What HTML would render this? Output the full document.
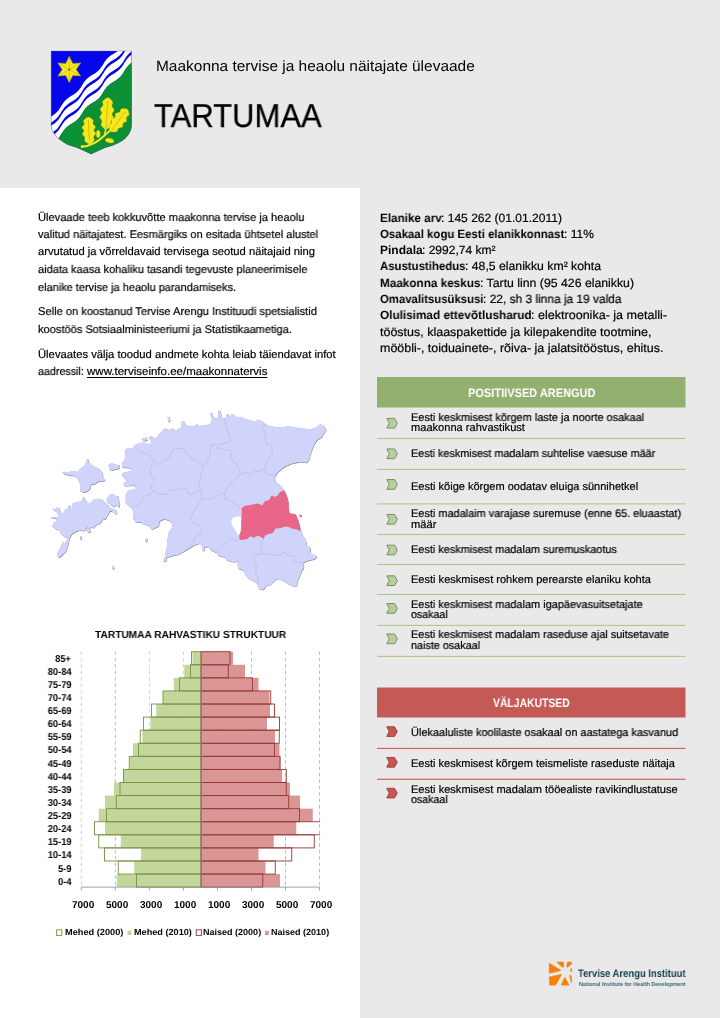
<!DOCTYPE html><html><head><meta charset="utf-8"><title>Tartumaa</title><style>
html,body{margin:0;padding:0}body{width:720px;height:1018px;position:relative;overflow:hidden;background:#e9e9e9;font-family:"Liberation Sans",sans-serif;color:#000}
#panel{position:absolute;left:0;top:188.3px;width:359.8px;height:830px;background:#fff}
#gfx{position:absolute;left:0;top:0}
.t{position:absolute;white-space:nowrap;line-height:1;transform-origin:0 0;margin:0;will-change:transform;text-rendering:geometricPrecision}
.r{transform-origin:100% 0}
u{text-decoration-thickness:0.8px;text-underline-offset:1.5px}
</style></head><body>
<div id="panel"></div>
<svg id="gfx" width="720" height="1018" viewBox="0 0 720 1018">
<clipPath id="sh"><path d="M51.1 51.1H131.5V124C131.5 128 131 130 129.9 131.75C128.8 134.5 127.5 136 125.5 138C123.5 140 121 141.5 118 143C115 144.5 113 145.3 110.5 146.1L105.5 147.4L91.1 154.1L76.75 147.4L71.75 146.1C69 145.3 66 143.8 63 141.75C60 139.7 57.5 138 55.5 135.5C53.5 133 52.3 131 51.75 128.6C51.2 126.5 51.1 125.5 51.1 124Z"/></clipPath>
<g clip-path="url(#sh)">
<rect x="50" y="50" width="83" height="106" fill="#0606ec"/>
<path d="M21.6 144.4 L22.5 143.3 L23.4 142.4 L24.4 141.4 L25.4 140.6 L26.5 139.8 L27.7 139.0 L28.9 138.3 L30.0 137.6 L31.2 136.8 L32.4 136.1 L33.5 135.3 L34.5 134.4 L35.5 133.5 L36.4 132.5 L37.3 131.5 L38.1 130.4 L38.9 129.3 L39.6 128.1 L40.3 126.9 L41.1 125.7 L41.8 124.6 L42.6 123.5 L43.4 122.4 L44.4 121.4 L45.3 120.5 L46.4 119.6 L47.5 118.8 L48.6 118.0 L49.8 117.3 L50.9 116.6 L52.1 115.9 L53.3 115.1 L54.4 114.3 L55.4 113.5 L56.4 112.6 L57.4 111.6 L58.3 110.6 L59.1 109.5 L59.8 108.3 L60.6 107.2 L61.3 106.0 L62.0 104.8 L62.8 103.7 L63.6 102.6 L64.4 101.5 L65.3 100.5 L66.3 99.5 L67.3 98.7 L68.4 97.8 L69.5 97.1 L70.7 96.3 L71.9 95.6 L73.0 94.9 L74.2 94.1 L75.3 93.4 L76.4 92.5 L77.4 91.6 L78.3 90.7 L79.2 89.6 L80.0 88.6 L80.8 87.4 L81.5 86.3 L82.3 85.1 L83.0 83.9 L83.7 82.8 L84.5 81.6 L85.4 80.6 L86.2 79.5 L87.2 78.6 L88.2 77.7 L89.3 76.9 L90.4 76.1 L91.6 75.4 L92.8 74.6 L93.9 73.9 L95.1 73.2 L96.2 72.4 L97.3 71.6 L98.3 70.7 L99.3 69.7 L100.2 68.7 L101.0 67.6 L101.8 66.5 L102.5 65.4 L103.2 64.2 L104.0 63.0 L104.7 61.8 L105.5 60.7 L106.3 59.6 L107.2 58.6 L108.1 57.7 L109.1 56.8 L110.2 55.9 L111.3 55.1 L112.5 54.4 L113.7 53.7 L114.9 52.9 L116.0 52.2 L117.1 51.4 L118.2 50.6 L119.3 49.7 L120.2 48.8 L121.1 47.8 L122.0 46.7 L122.7 45.6 L123.5 44.5 L124.2 43.3 L124.9 42.1 L125.7 40.9 L126.4 39.8 L127.3 38.7 L128.1 37.7 L129.1 36.7 L130.1 35.8 L131.1 35.0 L132.3 34.2 L133.4 33.4 L134.6 32.7 L135.8 32.0 L136.9 31.2 L138.1 30.5 L139.2 29.7 L140.2 28.8 L141.2 27.9 L142.1 26.9 L142.9 25.8 L143.7 24.7 L144.5 23.5 L145.2 22.4 L145.9 21.2 L145.9 49.4 L145.2 50.6 L144.5 51.7 L143.7 52.9 L142.9 54.0 L142.1 55.1 L141.2 56.1 L140.2 57.0 L139.2 57.9 L138.1 58.7 L136.9 59.4 L135.8 60.2 L134.6 60.9 L133.4 61.6 L132.3 62.4 L131.1 63.2 L130.1 64.0 L129.1 64.9 L128.1 65.9 L127.3 66.9 L126.4 68.0 L125.7 69.1 L124.9 70.3 L124.2 71.5 L123.5 72.7 L122.7 73.8 L122.0 74.9 L121.1 76.0 L120.2 77.0 L119.3 77.9 L118.2 78.8 L117.1 79.6 L116.0 80.4 L114.9 81.1 L113.7 81.9 L112.5 82.6 L111.3 83.3 L110.2 84.1 L109.1 85.0 L108.1 85.9 L107.2 86.8 L106.3 87.8 L105.5 88.9 L104.7 90.0 L104.0 91.2 L103.2 92.4 L102.5 93.6 L101.8 94.7 L101.0 95.8 L100.2 96.9 L99.3 97.9 L98.3 98.9 L97.3 99.8 L96.2 100.6 L95.1 101.4 L93.9 102.1 L92.8 102.8 L91.6 103.6 L90.4 104.3 L89.3 105.1 L88.2 105.9 L87.2 106.8 L86.2 107.7 L85.4 108.8 L84.5 109.8 L83.7 111.0 L83.0 112.1 L82.3 113.3 L81.5 114.5 L80.8 115.6 L80.0 116.8 L79.2 117.8 L78.3 118.9 L77.4 119.8 L76.4 120.7 L75.3 121.6 L74.2 122.3 L73.0 123.1 L71.9 123.8 L70.7 124.5 L69.5 125.3 L68.4 126.0 L67.3 126.9 L66.3 127.7 L65.3 128.7 L64.4 129.7 L63.6 130.8 L62.8 131.9 L62.0 133.0 L61.3 134.2 L60.6 135.4 L59.8 136.5 L59.1 137.7 L58.3 138.8 L57.4 139.8 L56.4 140.8 L55.4 141.7 L54.4 142.5 L53.3 143.3 L52.1 144.1 L50.9 144.8 L49.8 145.5 L48.6 146.2 L47.5 147.0 L46.4 147.8 L45.3 148.7 L44.4 149.6 L43.4 150.6 L42.6 151.7 L41.8 152.8 L41.1 153.9 L40.3 155.1 L39.6 156.3 L38.9 157.5 L38.1 158.6 L37.3 159.7 L36.4 160.7 L35.5 161.7 L34.5 162.6 L33.5 163.5 L32.4 164.3 L31.2 165.0 L30.0 165.8 L28.9 166.5 L27.7 167.2 L26.5 168.0 L25.4 168.8 L24.4 169.6 L23.4 170.6 L22.5 171.5 L21.6 172.6Z" fill="#fff"/>
<path d="M21.6 150.4 L22.5 149.3 L23.4 148.4 L24.4 147.4 L25.4 146.6 L26.5 145.8 L27.7 145.0 L28.9 144.3 L30.0 143.6 L31.2 142.8 L32.4 142.1 L33.5 141.3 L34.5 140.4 L35.5 139.5 L36.4 138.5 L37.3 137.5 L38.1 136.4 L38.9 135.3 L39.6 134.1 L40.3 132.9 L41.1 131.7 L41.8 130.6 L42.6 129.5 L43.4 128.4 L44.4 127.4 L45.3 126.5 L46.4 125.6 L47.5 124.8 L48.6 124.0 L49.8 123.3 L50.9 122.6 L52.1 121.9 L53.3 121.1 L54.4 120.3 L55.4 119.5 L56.4 118.6 L57.4 117.6 L58.3 116.6 L59.1 115.5 L59.8 114.3 L60.6 113.2 L61.3 112.0 L62.0 110.8 L62.8 109.7 L63.6 108.6 L64.4 107.5 L65.3 106.5 L66.3 105.5 L67.3 104.7 L68.4 103.8 L69.5 103.1 L70.7 102.3 L71.9 101.6 L73.0 100.9 L74.2 100.1 L75.3 99.4 L76.4 98.5 L77.4 97.6 L78.3 96.7 L79.2 95.6 L80.0 94.6 L80.8 93.4 L81.5 92.3 L82.3 91.1 L83.0 89.9 L83.7 88.8 L84.5 87.6 L85.4 86.6 L86.2 85.5 L87.2 84.6 L88.2 83.7 L89.3 82.9 L90.4 82.1 L91.6 81.4 L92.8 80.6 L93.9 79.9 L95.1 79.2 L96.2 78.4 L97.3 77.6 L98.3 76.7 L99.3 75.7 L100.2 74.7 L101.0 73.6 L101.8 72.5 L102.5 71.4 L103.2 70.2 L104.0 69.0 L104.7 67.8 L105.5 66.7 L106.3 65.6 L107.2 64.6 L108.1 63.7 L109.1 62.8 L110.2 61.9 L111.3 61.1 L112.5 60.4 L113.7 59.7 L114.9 58.9 L116.0 58.2 L117.1 57.4 L118.2 56.6 L119.3 55.7 L120.2 54.8 L121.1 53.8 L122.0 52.7 L122.7 51.6 L123.5 50.5 L124.2 49.3 L124.9 48.1 L125.7 46.9 L126.4 45.8 L127.3 44.7 L128.1 43.7 L129.1 42.7 L130.1 41.8 L131.1 41.0 L132.3 40.2 L133.4 39.4 L134.6 38.7 L135.8 38.0 L136.9 37.2 L138.1 36.5 L139.2 35.7 L140.2 34.8 L141.2 33.9 L142.1 32.9 L142.9 31.8 L143.7 30.7 L144.5 29.5 L145.2 28.4 L145.9 27.2 L145.9 30.4 L145.2 31.6 L144.5 32.7 L143.7 33.9 L142.9 35.0 L142.1 36.1 L141.2 37.1 L140.2 38.0 L139.2 38.9 L138.1 39.7 L136.9 40.4 L135.8 41.2 L134.6 41.9 L133.4 42.6 L132.3 43.4 L131.1 44.2 L130.1 45.0 L129.1 45.9 L128.1 46.9 L127.3 47.9 L126.4 49.0 L125.7 50.1 L124.9 51.3 L124.2 52.5 L123.5 53.7 L122.7 54.8 L122.0 55.9 L121.1 57.0 L120.2 58.0 L119.3 58.9 L118.2 59.8 L117.1 60.6 L116.0 61.4 L114.9 62.1 L113.7 62.9 L112.5 63.6 L111.3 64.3 L110.2 65.1 L109.1 66.0 L108.1 66.9 L107.2 67.8 L106.3 68.8 L105.5 69.9 L104.7 71.0 L104.0 72.2 L103.2 73.4 L102.5 74.6 L101.8 75.7 L101.0 76.8 L100.2 77.9 L99.3 78.9 L98.3 79.9 L97.3 80.8 L96.2 81.6 L95.1 82.4 L93.9 83.1 L92.8 83.8 L91.6 84.6 L90.4 85.3 L89.3 86.1 L88.2 86.9 L87.2 87.8 L86.2 88.7 L85.4 89.8 L84.5 90.8 L83.7 92.0 L83.0 93.1 L82.3 94.3 L81.5 95.5 L80.8 96.6 L80.0 97.8 L79.2 98.8 L78.3 99.9 L77.4 100.8 L76.4 101.7 L75.3 102.6 L74.2 103.3 L73.0 104.1 L71.9 104.8 L70.7 105.5 L69.5 106.3 L68.4 107.0 L67.3 107.9 L66.3 108.7 L65.3 109.7 L64.4 110.7 L63.6 111.8 L62.8 112.9 L62.0 114.0 L61.3 115.2 L60.6 116.4 L59.8 117.5 L59.1 118.7 L58.3 119.8 L57.4 120.8 L56.4 121.8 L55.4 122.7 L54.4 123.5 L53.3 124.3 L52.1 125.1 L50.9 125.8 L49.8 126.5 L48.6 127.2 L47.5 128.0 L46.4 128.8 L45.3 129.7 L44.4 130.6 L43.4 131.6 L42.6 132.7 L41.8 133.8 L41.1 134.9 L40.3 136.1 L39.6 137.3 L38.9 138.5 L38.1 139.6 L37.3 140.7 L36.4 141.7 L35.5 142.7 L34.5 143.6 L33.5 144.5 L32.4 145.3 L31.2 146.0 L30.0 146.8 L28.9 147.5 L27.7 148.2 L26.5 149.0 L25.4 149.8 L24.4 150.6 L23.4 151.6 L22.5 152.5 L21.6 153.6Z" fill="#0606ec"/>
<path d="M21.6 161.2 L22.5 160.1 L23.4 159.2 L24.4 158.2 L25.4 157.4 L26.5 156.6 L27.7 155.8 L28.9 155.1 L30.0 154.4 L31.2 153.6 L32.4 152.9 L33.5 152.1 L34.5 151.2 L35.5 150.3 L36.4 149.3 L37.3 148.3 L38.1 147.2 L38.9 146.1 L39.6 144.9 L40.3 143.7 L41.1 142.5 L41.8 141.4 L42.6 140.3 L43.4 139.2 L44.4 138.2 L45.3 137.3 L46.4 136.4 L47.5 135.6 L48.6 134.8 L49.8 134.1 L50.9 133.4 L52.1 132.7 L53.3 131.9 L54.4 131.1 L55.4 130.3 L56.4 129.4 L57.4 128.4 L58.3 127.4 L59.1 126.3 L59.8 125.1 L60.6 124.0 L61.3 122.8 L62.0 121.6 L62.8 120.5 L63.6 119.4 L64.4 118.3 L65.3 117.3 L66.3 116.3 L67.3 115.5 L68.4 114.6 L69.5 113.9 L70.7 113.1 L71.9 112.4 L73.0 111.7 L74.2 110.9 L75.3 110.2 L76.4 109.3 L77.4 108.4 L78.3 107.5 L79.2 106.4 L80.0 105.4 L80.8 104.2 L81.5 103.1 L82.3 101.9 L83.0 100.7 L83.7 99.6 L84.5 98.4 L85.4 97.4 L86.2 96.3 L87.2 95.4 L88.2 94.5 L89.3 93.7 L90.4 92.9 L91.6 92.2 L92.8 91.4 L93.9 90.7 L95.1 90.0 L96.2 89.2 L97.3 88.4 L98.3 87.5 L99.3 86.5 L100.2 85.5 L101.0 84.4 L101.8 83.3 L102.5 82.2 L103.2 81.0 L104.0 79.8 L104.7 78.6 L105.5 77.5 L106.3 76.4 L107.2 75.4 L108.1 74.5 L109.1 73.6 L110.2 72.7 L111.3 71.9 L112.5 71.2 L113.7 70.5 L114.9 69.7 L116.0 69.0 L117.1 68.2 L118.2 67.4 L119.3 66.5 L120.2 65.6 L121.1 64.6 L122.0 63.5 L122.7 62.4 L123.5 61.3 L124.2 60.1 L124.9 58.9 L125.7 57.7 L126.4 56.6 L127.3 55.5 L128.1 54.5 L129.1 53.5 L130.1 52.6 L131.1 51.8 L132.3 51.0 L133.4 50.2 L134.6 49.5 L135.8 48.8 L136.9 48.0 L138.1 47.3 L139.2 46.5 L140.2 45.6 L141.2 44.7 L142.1 43.7 L142.9 42.6 L143.7 41.5 L144.5 40.3 L145.2 39.2 L145.9 38.0 L145.9 41.2 L145.2 42.4 L144.5 43.5 L143.7 44.7 L142.9 45.8 L142.1 46.9 L141.2 47.9 L140.2 48.8 L139.2 49.7 L138.1 50.5 L136.9 51.2 L135.8 52.0 L134.6 52.7 L133.4 53.4 L132.3 54.2 L131.1 55.0 L130.1 55.8 L129.1 56.7 L128.1 57.7 L127.3 58.7 L126.4 59.8 L125.7 60.9 L124.9 62.1 L124.2 63.3 L123.5 64.5 L122.7 65.6 L122.0 66.7 L121.1 67.8 L120.2 68.8 L119.3 69.7 L118.2 70.6 L117.1 71.4 L116.0 72.2 L114.9 72.9 L113.7 73.7 L112.5 74.4 L111.3 75.1 L110.2 75.9 L109.1 76.8 L108.1 77.7 L107.2 78.6 L106.3 79.6 L105.5 80.7 L104.7 81.8 L104.0 83.0 L103.2 84.2 L102.5 85.4 L101.8 86.5 L101.0 87.6 L100.2 88.7 L99.3 89.7 L98.3 90.7 L97.3 91.6 L96.2 92.4 L95.1 93.2 L93.9 93.9 L92.8 94.6 L91.6 95.4 L90.4 96.1 L89.3 96.9 L88.2 97.7 L87.2 98.6 L86.2 99.5 L85.4 100.6 L84.5 101.6 L83.7 102.8 L83.0 103.9 L82.3 105.1 L81.5 106.3 L80.8 107.4 L80.0 108.6 L79.2 109.6 L78.3 110.7 L77.4 111.6 L76.4 112.5 L75.3 113.4 L74.2 114.1 L73.0 114.9 L71.9 115.6 L70.7 116.3 L69.5 117.1 L68.4 117.8 L67.3 118.7 L66.3 119.5 L65.3 120.5 L64.4 121.5 L63.6 122.6 L62.8 123.7 L62.0 124.8 L61.3 126.0 L60.6 127.2 L59.8 128.3 L59.1 129.5 L58.3 130.6 L57.4 131.6 L56.4 132.6 L55.4 133.5 L54.4 134.3 L53.3 135.1 L52.1 135.9 L50.9 136.6 L49.8 137.3 L48.6 138.0 L47.5 138.8 L46.4 139.6 L45.3 140.5 L44.4 141.4 L43.4 142.4 L42.6 143.5 L41.8 144.6 L41.1 145.7 L40.3 146.9 L39.6 148.1 L38.9 149.3 L38.1 150.4 L37.3 151.5 L36.4 152.5 L35.5 153.5 L34.5 154.4 L33.5 155.3 L32.4 156.1 L31.2 156.8 L30.0 157.6 L28.9 158.3 L27.7 159.0 L26.5 159.8 L25.4 160.6 L24.4 161.4 L23.4 162.4 L22.5 163.3 L21.6 164.4Z" fill="#0606ec"/>
<path d="M21.6 172.4 L22.5 171.3 L23.4 170.4 L24.4 169.4 L25.4 168.6 L26.5 167.8 L27.7 167.0 L28.9 166.3 L30.0 165.6 L31.2 164.8 L32.4 164.1 L33.5 163.3 L34.5 162.4 L35.5 161.5 L36.4 160.5 L37.3 159.5 L38.1 158.4 L38.9 157.3 L39.6 156.1 L40.3 154.9 L41.1 153.7 L41.8 152.6 L42.6 151.5 L43.4 150.4 L44.4 149.4 L45.3 148.5 L46.4 147.6 L47.5 146.8 L48.6 146.0 L49.8 145.3 L50.9 144.6 L52.1 143.9 L53.3 143.1 L54.4 142.3 L55.4 141.5 L56.4 140.6 L57.4 139.6 L58.3 138.6 L59.1 137.5 L59.8 136.3 L60.6 135.2 L61.3 134.0 L62.0 132.8 L62.8 131.7 L63.6 130.6 L64.4 129.5 L65.3 128.5 L66.3 127.5 L67.3 126.7 L68.4 125.8 L69.5 125.1 L70.7 124.3 L71.9 123.6 L73.0 122.9 L74.2 122.1 L75.3 121.4 L76.4 120.5 L77.4 119.6 L78.3 118.7 L79.2 117.6 L80.0 116.6 L80.8 115.4 L81.5 114.3 L82.3 113.1 L83.0 111.9 L83.7 110.8 L84.5 109.6 L85.4 108.6 L86.2 107.5 L87.2 106.6 L88.2 105.7 L89.3 104.9 L90.4 104.1 L91.6 103.4 L92.8 102.6 L93.9 101.9 L95.1 101.2 L96.2 100.4 L97.3 99.6 L98.3 98.7 L99.3 97.7 L100.2 96.7 L101.0 95.6 L101.8 94.5 L102.5 93.4 L103.2 92.2 L104.0 91.0 L104.7 89.8 L105.5 88.7 L106.3 87.6 L107.2 86.6 L108.1 85.7 L109.1 84.8 L110.2 83.9 L111.3 83.1 L112.5 82.4 L113.7 81.7 L114.9 80.9 L116.0 80.2 L117.1 79.4 L118.2 78.6 L119.3 77.7 L120.2 76.8 L121.1 75.8 L122.0 74.7 L122.7 73.6 L123.5 72.5 L124.2 71.3 L124.9 70.1 L125.7 68.9 L126.4 67.8 L127.3 66.7 L128.1 65.7 L129.1 64.7 L130.1 63.8 L131.1 63.0 L132.3 62.2 L133.4 61.4 L134.6 60.7 L135.8 60.0 L136.9 59.2 L138.1 58.5 L139.2 57.7 L140.2 56.8 L141.2 55.9 L142.1 54.9 L142.9 53.8 L143.7 52.7 L144.5 51.5 L145.2 50.4 L145.9 49.2 L150.0 170.0 L20.0 170.0Z" fill="#0c9035"/>
<path d="M69.2 56.2 L72.8 63.4 L80.7 62.9 L76.2 69.5 L80.7 76.0 L72.8 75.5 L69.2 82.7 L65.8 75.5 L57.8 76.1 L62.2 69.5 L57.8 62.9 L65.8 63.4Z" fill="#f7e81c" stroke="#9c9422" stroke-width="0.5"/>
<line x1="69.2" y1="69.5" x2="69.2" y2="56.2" stroke="#9c9422" stroke-width="0.4"/>
<line x1="69.2" y1="69.5" x2="80.7" y2="62.9" stroke="#9c9422" stroke-width="0.4"/>
<line x1="69.2" y1="69.5" x2="80.7" y2="76.0" stroke="#9c9422" stroke-width="0.4"/>
<line x1="69.2" y1="69.5" x2="69.2" y2="82.7" stroke="#9c9422" stroke-width="0.4"/>
<line x1="69.2" y1="69.5" x2="57.8" y2="76.1" stroke="#9c9422" stroke-width="0.4"/>
<line x1="69.2" y1="69.5" x2="57.8" y2="62.9" stroke="#9c9422" stroke-width="0.4"/>
<circle cx="69.25" cy="69.45" r="1" fill="#6b5a10"/>
<path d="M89.6 144.0 L91.2 143.5 L91.8 143.0 L92.4 142.5 L92.9 142.0 L93.4 141.5 L93.8 141.1 L94.2 140.6 L94.4 140.1 L94.4 139.7 L94.4 139.2 L94.2 138.8 L94.0 138.4 L93.8 137.9 L93.7 137.5 L93.7 137.0 L93.8 136.6 L94.1 136.1 L94.4 135.6 L94.9 135.2 L95.3 134.7 L95.6 134.2 L95.8 133.8 L95.9 133.3 L95.7 132.9 L95.4 132.4 L95.1 132.0 L94.7 131.6 L94.3 131.1 L94.0 130.7 L93.9 130.2 L94.0 129.8 L94.2 129.3 L94.5 128.9 L94.9 128.4 L95.2 127.9 L95.4 127.5 L95.5 127.0 L95.4 126.6 L95.2 126.1 L94.8 125.7 L94.4 125.3 L93.9 124.8 L93.5 124.4 L93.1 124.0 L93.0 123.5 L92.9 123.1 L93.0 122.6 L93.1 122.2 L93.3 121.7 L93.4 121.2 L93.4 120.8 L93.3 120.3 L93.1 119.9 L92.7 119.5 L92.2 119.0 L91.7 118.6 L91.1 118.2 L90.5 117.8 L89.9 117.4 L88.2 117.0 L88.2 117.0 L86.6 117.5 L86.0 118.0 L85.4 118.5 L84.9 119.0 L84.4 119.5 L84.0 119.9 L83.6 120.4 L83.4 120.9 L83.4 121.3 L83.4 121.8 L83.6 122.2 L83.8 122.6 L84.0 123.1 L84.1 123.5 L84.1 124.0 L84.0 124.4 L83.7 124.9 L83.4 125.4 L82.9 125.8 L82.5 126.3 L82.2 126.8 L82.0 127.2 L81.9 127.7 L82.1 128.1 L82.4 128.6 L82.7 129.0 L83.1 129.4 L83.5 129.9 L83.8 130.3 L83.9 130.8 L83.8 131.2 L83.6 131.7 L83.3 132.1 L82.9 132.6 L82.6 133.1 L82.4 133.5 L82.3 134.0 L82.4 134.4 L82.6 134.9 L83.0 135.3 L83.4 135.7 L83.9 136.2 L84.3 136.6 L84.7 137.0 L84.8 137.5 L84.9 137.9 L84.8 138.4 L84.7 138.8 L84.5 139.3 L84.4 139.8 L84.4 140.2 L84.5 140.7 L84.7 141.1 L85.1 141.5 L85.6 142.0 L86.1 142.4 L86.7 142.8 L87.3 143.2 L87.9 143.6 L89.6 144.0Z" fill="#f7e81c" stroke="#9c9422" stroke-width="0.35"/>
<line x1="89.6" y1="144.0" x2="88.3" y2="119.7" stroke="#9c9422" stroke-width="0.5"/>
<path d="M105.8 129.5 L107.6 129.1 L108.2 128.6 L108.8 128.1 L109.4 127.6 L110.0 127.1 L110.5 126.6 L110.9 126.1 L111.2 125.6 L111.3 125.1 L111.3 124.5 L111.2 124.0 L111.0 123.5 L110.9 122.9 L110.8 122.4 L110.9 121.8 L111.1 121.3 L111.4 120.8 L111.9 120.3 L112.4 119.8 L112.9 119.3 L113.3 118.8 L113.5 118.3 L113.6 117.8 L113.5 117.2 L113.3 116.7 L113.0 116.1 L112.6 115.5 L112.3 115.0 L112.1 114.4 L112.1 113.9 L112.2 113.4 L112.5 112.9 L112.8 112.4 L113.3 111.9 L113.7 111.3 L114.0 110.8 L114.1 110.3 L114.1 109.8 L113.9 109.2 L113.6 108.7 L113.2 108.1 L112.8 107.5 L112.4 107.0 L112.1 106.4 L112.0 105.9 L112.0 105.4 L112.1 104.8 L112.4 104.3 L112.6 103.8 L112.8 103.3 L112.8 102.7 L112.8 102.2 L112.6 101.7 L112.3 101.1 L111.8 100.5 L111.3 100.0 L110.8 99.4 L110.3 98.8 L109.7 98.2 L108.0 97.6 L108.0 97.6 L106.2 98.0 L105.6 98.5 L105.0 99.0 L104.4 99.5 L103.8 100.0 L103.3 100.5 L102.9 101.0 L102.6 101.5 L102.5 102.0 L102.5 102.6 L102.6 103.1 L102.8 103.6 L102.9 104.2 L103.0 104.7 L102.9 105.3 L102.7 105.8 L102.4 106.3 L101.9 106.8 L101.4 107.3 L100.9 107.8 L100.5 108.3 L100.3 108.8 L100.2 109.3 L100.3 109.9 L100.5 110.4 L100.8 111.0 L101.2 111.6 L101.5 112.1 L101.7 112.7 L101.7 113.2 L101.6 113.7 L101.3 114.2 L101.0 114.7 L100.5 115.2 L100.1 115.8 L99.8 116.3 L99.7 116.8 L99.7 117.3 L99.9 117.9 L100.2 118.4 L100.6 119.0 L101.0 119.6 L101.4 120.1 L101.7 120.7 L101.8 121.2 L101.8 121.7 L101.7 122.3 L101.4 122.8 L101.2 123.3 L101.0 123.8 L101.0 124.4 L101.0 124.9 L101.2 125.4 L101.5 126.0 L102.0 126.6 L102.5 127.1 L103.0 127.7 L103.5 128.3 L104.1 128.9 L105.8 129.5Z" fill="#f7e81c" stroke="#9c9422" stroke-width="0.35"/>
<line x1="105.8" y1="129.5" x2="107.8" y2="100.8" stroke="#9c9422" stroke-width="0.5"/>
<path d="M110.8 131.5 L112.4 132.1 L113.2 132.1 L113.9 132.0 L114.6 132.0 L115.3 131.9 L116.0 131.8 L116.5 131.7 L117.0 131.4 L117.3 131.1 L117.6 130.7 L117.7 130.2 L117.9 129.8 L118.0 129.3 L118.2 128.8 L118.5 128.5 L118.9 128.2 L119.4 128.0 L120.0 127.9 L120.6 127.7 L121.2 127.6 L121.8 127.5 L122.3 127.2 L122.6 126.9 L122.8 126.4 L122.8 125.9 L122.8 125.3 L122.8 124.7 L122.8 124.2 L122.9 123.6 L123.1 123.2 L123.4 122.9 L123.9 122.7 L124.4 122.5 L125.0 122.3 L125.6 122.2 L126.0 121.9 L126.4 121.6 L126.6 121.2 L126.7 120.7 L126.7 120.1 L126.6 119.5 L126.5 118.9 L126.5 118.2 L126.5 117.7 L126.7 117.2 L126.9 116.8 L127.3 116.5 L127.7 116.3 L128.1 116.0 L128.5 115.7 L128.8 115.3 L129.0 114.9 L129.1 114.4 L129.1 113.8 L129.0 113.2 L128.8 112.5 L128.7 111.8 L128.5 111.1 L128.3 110.4 L127.2 109.0 L127.2 109.0 L125.6 108.4 L124.8 108.4 L124.1 108.5 L123.4 108.5 L122.7 108.6 L122.0 108.7 L121.5 108.8 L121.0 109.1 L120.7 109.4 L120.4 109.8 L120.3 110.3 L120.1 110.7 L120.0 111.2 L119.8 111.7 L119.5 112.0 L119.1 112.3 L118.6 112.5 L118.0 112.6 L117.4 112.8 L116.8 112.9 L116.2 113.0 L115.7 113.3 L115.4 113.6 L115.2 114.1 L115.2 114.6 L115.2 115.2 L115.2 115.8 L115.2 116.3 L115.1 116.9 L114.9 117.3 L114.6 117.6 L114.1 117.8 L113.6 118.0 L113.0 118.2 L112.4 118.3 L112.0 118.6 L111.6 118.9 L111.4 119.3 L111.3 119.8 L111.3 120.4 L111.4 121.0 L111.5 121.6 L111.5 122.3 L111.5 122.8 L111.3 123.3 L111.1 123.7 L110.7 124.0 L110.3 124.2 L109.9 124.5 L109.5 124.8 L109.2 125.2 L109.0 125.6 L108.9 126.1 L108.9 126.7 L109.0 127.3 L109.2 128.0 L109.3 128.7 L109.5 129.4 L109.7 130.1 L110.8 131.5Z" fill="#f7e81c" stroke="#9c9422" stroke-width="0.35"/>
<line x1="110.8" y1="131.5" x2="125.6" y2="111.2" stroke="#9c9422" stroke-width="0.5"/>
<path d="M81.8 146.8C90 146 99 141 104.5 135.5C107 133 109 131.5 111 130" fill="none" stroke="#f7e81c" stroke-width="1.9" stroke-linecap="round"/>
<path d="M104.5 135.5L105.8 129" fill="none" stroke="#f7e81c" stroke-width="1.5"/>
<path d="M89.5 145L89.8 140" fill="none" stroke="#f7e81c" stroke-width="1.5"/>
<circle cx="82.2" cy="146.6" r="1.5" fill="#f7e81c"/>
<ellipse cx="98.2" cy="134" rx="2.1" ry="3.8" fill="#f7e81c" stroke="#9c9422" stroke-width="0.3"/>
<ellipse cx="109.6" cy="140.6" rx="4.4" ry="2.3" transform="rotate(12 109.6 140.6)" fill="#f7e81c" stroke="#9c9422" stroke-width="0.3"/>
</g>
<path d="M51.1 51.1H131.5V124C131.5 128 131 130 129.9 131.75C128.8 134.5 127.5 136 125.5 138C123.5 140 121 141.5 118 143C115 144.5 113 145.3 110.5 146.1L105.5 147.4L91.1 154.1L76.75 147.4L71.75 146.1C69 145.3 66 143.8 63 141.75C60 139.7 57.5 138 55.5 135.5C53.5 133 52.3 131 51.75 128.6C51.2 126.5 51.1 125.5 51.1 124Z" fill="none" stroke="#55606a" stroke-width="0.5" stroke-opacity="0.6"/>
<g>
<path d="M133.5 520.0 L132.5 508.8 L125.5 502.7 L125.5 494.7 L127.9 490.6 L135.6 488.6 L135.2 485.6 L124.5 486.2 L123.1 483.6 L126.5 480.6 L122.5 475.5 L121.9 472.9 L131.1 470.5 L130.5 468.1 L122.5 467.5 L121.5 462.8 L124.5 459.4 L125.5 454.4 L124.5 450.3 L126.5 448.3 L132.5 447.9 L135.6 444.3 L141.6 442.3 L146.6 443.3 L149.7 444.7 L151.3 441.3 L148.6 437.3 L150.7 435.8 L155.7 438.3 L158.7 434.2 L162.7 430.2 L164.8 428.2 L169.8 430.2 L171.8 428.2 L175.8 430.2 L178.9 428.2 L181.5 427.2 L181.5 421.1 L183.9 421.1 L185.9 425.2 L191.9 426.2 L196.0 425.2 L200.0 425.8 L195.0 425.8 L197.0 423.8 L198.1 425.8 L210.1 424.2 L211.8 419.1 L210.1 413.1 L211.8 412.5 L213.8 418.1 L218.2 417.1 L218.2 410.5 L220.2 410.5 L221.8 417.1 L223.2 418.5 L226.2 417.1 L226.7 413.7 L228.3 414.1 L228.7 416.5 L230.3 416.1 L231.3 413.7 L233.3 414.1 L235.3 416.5 L242.4 417.1 L245.4 419.1 L250.4 420.1 L254.4 421.8 L257.5 419.5 L260.5 420.1 L265.5 423.8 L269.5 426.2 L278.6 427.2 L288.7 426.2 L298.8 427.8 L310.8 429.2 L315.9 427.2 L319.9 423.8 L323.9 426.2 L326.5 430.2 L322.9 435.2 L321.9 437.3 L316.9 440.3 L313.9 445.3 L310.8 453.4 L308.8 460.4 L306.8 462.8 L299.8 462.0 L290.7 464.0 L283.6 467.5 L277.6 472.5 L274.6 477.5 L275.6 481.6 L281.6 486.6 L284.7 491.6 L287.7 498.7 L288.3 502.2 L288.7 508.2 L289.1 513.2 L291.7 513.8 L295.7 514.6 L297.7 519.3 L299.8 526.3 L300.8 530.3 L302.8 535.4 L305.8 540.4 L306.8 545.5 L309.8 546.5 L310.8 549.5 L309.8 552.5 L315.9 555.5 L316.9 557.5 L313.9 559.5 L308.8 560.6 L303.8 562.6 L303.8 568.6 L301.8 570.6 L299.8 576.7 L297.7 580.7 L296.7 586.7 L290.7 585.7 L284.7 581.7 L278.6 578.7 L274.6 580.7 L270.6 584.7 L266.5 585.7 L263.5 589.8 L259.5 589.4 L257.5 584.7 L254.4 581.7 L248.4 578.7 L245.4 574.7 L243.4 570.6 L238.3 568.6 L237.3 564.6 L238.3 561.6 L233.3 562.2 L227.3 560.6 L225.2 557.5 L218.2 555.5 L216.2 552.5 L211.1 550.5 L208.1 546.5 L205.1 547.5 L201.1 544.8 L200.1 543.4 L194.0 545.5 L188.9 548.5 L183.9 551.5 L177.8 554.9 L171.8 556.1 L166.8 557.5 L165.4 560.6 L164.4 558.5 L165.4 552.5 L166.8 546.5 L167.4 538.4 L168.8 531.4 L172.2 527.3 L171.8 523.3 L168.8 520.3 L163.8 519.3 L159.7 521.3 L158.7 526.3 L151.7 529.9 L148.6 525.3 L144.6 524.7 L140.6 522.3 L135.6 522.7 L134.5 519.3Z M62.0 471.5 L67.1 472.1 L73.1 470.9 L77.2 471.5 L80.2 468.5 L85.2 464.4 L86.2 459.4 L88.2 459.4 L89.2 463.4 L94.3 466.5 L99.3 468.5 L102.3 472.5 L103.3 477.5 L105.3 480.6 L102.3 481.6 L98.3 481.6 L94.3 484.6 L91.2 484.6 L90.2 488.6 L87.2 491.6 L83.2 492.6 L80.2 490.6 L80.2 484.6 L78.2 479.5 L75.1 476.1 L69.1 475.5 L64.1 474.1Z M108.4 464.4 L111.4 462.8 L115.4 464.4 L119.0 464.8 L119.8 468.5 L115.4 469.5 L111.4 470.5 L109.0 468.5Z M52.2 508.2 L55.0 509.6 L56.4 507.2 L59.2 508.2 L61.2 513.1 L63.3 514.4 L64.0 510.3 L67.5 508.2 L68.6 505.4 L70.3 505.4 L71.0 508.9 L72.4 508.9 L72.4 503.3 L75.8 502.2 L80.7 501.2 L83.5 496.4 L85.6 499.9 L86.9 502.6 L91.1 502.6 L93.2 499.2 L97.4 498.5 L102.2 499.4 L105.0 502.6 L107.8 504.7 L109.9 507.5 L110.6 510.3 L108.5 514.4 L106.4 517.2 L105.7 519.3 L102.9 519.7 L100.1 523.5 L98.1 524.2 L95.3 525.6 L93.9 528.1 L91.1 527.6 L89.0 528.3 L86.9 527.6 L85.6 530.4 L83.5 531.1 L80.7 530.4 L77.9 531.1 L74.4 532.5 L71.7 534.6 L69.6 538.1 L68.9 542.2 L67.5 547.1 L66.4 551.2 L63.3 554.0 L59.9 557.5 L57.8 556.8 L57.1 553.3 L59.2 549.2 L61.2 545.0 L62.6 542.2 L64.7 542.9 L66.8 539.4 L68.2 537.4 L65.4 537.4 L62.6 535.3 L60.6 533.2 L59.2 530.4 L55.7 529.0 L52.9 526.9 L51.5 524.9 L54.3 523.5 L52.9 521.4 L55.7 522.1 L57.1 519.3 L54.3 518.3 L50.8 517.9 L50.8 516.9 L55.0 516.5 L58.5 517.9 L57.8 514.4 L56.4 511.7 L54.3 510.3Z M106.1 499.4 L108.5 495.7 L111.9 493.6 L115.4 495.7 L118.6 496.4 L118.9 501.2 L120.0 504.7 L118.9 507.5 L116.8 505.4 L113.3 507.2 L110.6 504.7 L107.8 502.6Z M110.6 508.2 L113.3 508.9 L116.1 510.3 L117.2 513.1 L116.1 514.7 L114.0 512.4 L111.9 511.7 L109.9 510.3Z M80.0 536.4 L81.1 535.8 L81.9 538.3 L80.6 539.4Z M87.2 528.6 L89.4 528.3 L91.1 531.1 L89.7 532.5 L87.5 531.8Z M111.7 565.8 L113.3 565.6 L114.4 568.3 L113.1 569.4 L111.9 568.1Z M145.2 538.8 L147.6 538.4 L147.2 541.4 L145.6 542.4Z M163.3 558.9 L166.2 558.9 L166.2 561.6 L163.8 561.8Z M80.2 536.4 L81.8 536.4 L81.8 539.4 L80.2 539.8Z M87.2 529.9 L90.2 529.3 L90.8 532.0 L88.2 532.8Z M167.4 417.1 L169.4 416.5 L170.2 421.1 L168.2 422.2Z M141.6 438.3 L146.6 437.3 L147.6 440.3 L143.6 441.3Z M201.7 546.5 L204.1 545.5 L204.9 550.5 L202.5 550.9Z" fill="#6c6c84" transform="translate(0.3,0.4)"/>
<path d="M133.5 520.0 L132.5 508.8 L125.5 502.7 L125.5 494.7 L127.9 490.6 L135.6 488.6 L135.2 485.6 L124.5 486.2 L123.1 483.6 L126.5 480.6 L122.5 475.5 L121.9 472.9 L131.1 470.5 L130.5 468.1 L122.5 467.5 L121.5 462.8 L124.5 459.4 L125.5 454.4 L124.5 450.3 L126.5 448.3 L132.5 447.9 L135.6 444.3 L141.6 442.3 L146.6 443.3 L149.7 444.7 L151.3 441.3 L148.6 437.3 L150.7 435.8 L155.7 438.3 L158.7 434.2 L162.7 430.2 L164.8 428.2 L169.8 430.2 L171.8 428.2 L175.8 430.2 L178.9 428.2 L181.5 427.2 L181.5 421.1 L183.9 421.1 L185.9 425.2 L191.9 426.2 L196.0 425.2 L200.0 425.8 L195.0 425.8 L197.0 423.8 L198.1 425.8 L210.1 424.2 L211.8 419.1 L210.1 413.1 L211.8 412.5 L213.8 418.1 L218.2 417.1 L218.2 410.5 L220.2 410.5 L221.8 417.1 L223.2 418.5 L226.2 417.1 L226.7 413.7 L228.3 414.1 L228.7 416.5 L230.3 416.1 L231.3 413.7 L233.3 414.1 L235.3 416.5 L242.4 417.1 L245.4 419.1 L250.4 420.1 L254.4 421.8 L257.5 419.5 L260.5 420.1 L265.5 423.8 L269.5 426.2 L278.6 427.2 L288.7 426.2 L298.8 427.8 L310.8 429.2 L315.9 427.2 L319.9 423.8 L323.9 426.2 L326.5 430.2 L322.9 435.2 L321.9 437.3 L316.9 440.3 L313.9 445.3 L310.8 453.4 L308.8 460.4 L306.8 462.8 L299.8 462.0 L290.7 464.0 L283.6 467.5 L277.6 472.5 L274.6 477.5 L275.6 481.6 L281.6 486.6 L284.7 491.6 L287.7 498.7 L288.3 502.2 L288.7 508.2 L289.1 513.2 L291.7 513.8 L295.7 514.6 L297.7 519.3 L299.8 526.3 L300.8 530.3 L302.8 535.4 L305.8 540.4 L306.8 545.5 L309.8 546.5 L310.8 549.5 L309.8 552.5 L315.9 555.5 L316.9 557.5 L313.9 559.5 L308.8 560.6 L303.8 562.6 L303.8 568.6 L301.8 570.6 L299.8 576.7 L297.7 580.7 L296.7 586.7 L290.7 585.7 L284.7 581.7 L278.6 578.7 L274.6 580.7 L270.6 584.7 L266.5 585.7 L263.5 589.8 L259.5 589.4 L257.5 584.7 L254.4 581.7 L248.4 578.7 L245.4 574.7 L243.4 570.6 L238.3 568.6 L237.3 564.6 L238.3 561.6 L233.3 562.2 L227.3 560.6 L225.2 557.5 L218.2 555.5 L216.2 552.5 L211.1 550.5 L208.1 546.5 L205.1 547.5 L201.1 544.8 L200.1 543.4 L194.0 545.5 L188.9 548.5 L183.9 551.5 L177.8 554.9 L171.8 556.1 L166.8 557.5 L165.4 560.6 L164.4 558.5 L165.4 552.5 L166.8 546.5 L167.4 538.4 L168.8 531.4 L172.2 527.3 L171.8 523.3 L168.8 520.3 L163.8 519.3 L159.7 521.3 L158.7 526.3 L151.7 529.9 L148.6 525.3 L144.6 524.7 L140.6 522.3 L135.6 522.7 L134.5 519.3Z M62.0 471.5 L67.1 472.1 L73.1 470.9 L77.2 471.5 L80.2 468.5 L85.2 464.4 L86.2 459.4 L88.2 459.4 L89.2 463.4 L94.3 466.5 L99.3 468.5 L102.3 472.5 L103.3 477.5 L105.3 480.6 L102.3 481.6 L98.3 481.6 L94.3 484.6 L91.2 484.6 L90.2 488.6 L87.2 491.6 L83.2 492.6 L80.2 490.6 L80.2 484.6 L78.2 479.5 L75.1 476.1 L69.1 475.5 L64.1 474.1Z M108.4 464.4 L111.4 462.8 L115.4 464.4 L119.0 464.8 L119.8 468.5 L115.4 469.5 L111.4 470.5 L109.0 468.5Z M52.2 508.2 L55.0 509.6 L56.4 507.2 L59.2 508.2 L61.2 513.1 L63.3 514.4 L64.0 510.3 L67.5 508.2 L68.6 505.4 L70.3 505.4 L71.0 508.9 L72.4 508.9 L72.4 503.3 L75.8 502.2 L80.7 501.2 L83.5 496.4 L85.6 499.9 L86.9 502.6 L91.1 502.6 L93.2 499.2 L97.4 498.5 L102.2 499.4 L105.0 502.6 L107.8 504.7 L109.9 507.5 L110.6 510.3 L108.5 514.4 L106.4 517.2 L105.7 519.3 L102.9 519.7 L100.1 523.5 L98.1 524.2 L95.3 525.6 L93.9 528.1 L91.1 527.6 L89.0 528.3 L86.9 527.6 L85.6 530.4 L83.5 531.1 L80.7 530.4 L77.9 531.1 L74.4 532.5 L71.7 534.6 L69.6 538.1 L68.9 542.2 L67.5 547.1 L66.4 551.2 L63.3 554.0 L59.9 557.5 L57.8 556.8 L57.1 553.3 L59.2 549.2 L61.2 545.0 L62.6 542.2 L64.7 542.9 L66.8 539.4 L68.2 537.4 L65.4 537.4 L62.6 535.3 L60.6 533.2 L59.2 530.4 L55.7 529.0 L52.9 526.9 L51.5 524.9 L54.3 523.5 L52.9 521.4 L55.7 522.1 L57.1 519.3 L54.3 518.3 L50.8 517.9 L50.8 516.9 L55.0 516.5 L58.5 517.9 L57.8 514.4 L56.4 511.7 L54.3 510.3Z M106.1 499.4 L108.5 495.7 L111.9 493.6 L115.4 495.7 L118.6 496.4 L118.9 501.2 L120.0 504.7 L118.9 507.5 L116.8 505.4 L113.3 507.2 L110.6 504.7 L107.8 502.6Z M110.6 508.2 L113.3 508.9 L116.1 510.3 L117.2 513.1 L116.1 514.7 L114.0 512.4 L111.9 511.7 L109.9 510.3Z M80.0 536.4 L81.1 535.8 L81.9 538.3 L80.6 539.4Z M87.2 528.6 L89.4 528.3 L91.1 531.1 L89.7 532.5 L87.5 531.8Z M111.7 565.8 L113.3 565.6 L114.4 568.3 L113.1 569.4 L111.9 568.1Z M145.2 538.8 L147.6 538.4 L147.2 541.4 L145.6 542.4Z M163.3 558.9 L166.2 558.9 L166.2 561.6 L163.8 561.8Z M80.2 536.4 L81.8 536.4 L81.8 539.4 L80.2 539.8Z M87.2 529.9 L90.2 529.3 L90.8 532.0 L88.2 532.8Z M167.4 417.1 L169.4 416.5 L170.2 421.1 L168.2 422.2Z M141.6 438.3 L146.6 437.3 L147.6 440.3 L143.6 441.3Z M201.7 546.5 L204.1 545.5 L204.9 550.5 L202.5 550.9Z" fill="#d0d3fa"/>
<path d="M135.6 448.3 L141.6 452.4 L149.7 455.4 L153.7 460.4 L151.7 465.5 L149.7 469.5 L151.7 476.5 L154.7 480.6 L151.7 484.6 L150.7 488.6 L153.7 491.6 L149.7 494.7 L144.6 496.3 L141.6 499.7 L140.6 503.7 L136.6 505.7 L132.5 505.7" fill="none" stroke="#b3b7e0" stroke-width="0.6"/>
<path d="M153.7 460.4 L159.7 465.5 L164.8 459.4 L169.8 458.4 L170.8 452.4 L175.8 448.3 L183.9 448.3 L185.9 453.4 L191.9 457.4" fill="none" stroke="#b3b7e0" stroke-width="0.6"/>
<path d="M153.7 491.6 L159.7 494.2 L165.8 494.7 L170.8 489.6 L175.8 490.2 L181.9 487.6 L186.9 489.6 L188.9 494.7 L196.0 491.6 L200.0 490.6" fill="none" stroke="#b3b7e0" stroke-width="0.6"/>
<path d="M224.2 418.1 L227.3 430.2 L230.3 438.3 L229.3 442.3 L223.2 443.3 L216.2 445.3 L212.2 444.3 L210.1 450.3 L209.1 458.4 L204.1 466.5 L201.1 473.5 L199.1 484.6 L201.1 490.6 L202.1 498.7 L198.1 504.7 L193.0 512.8 L190.0 520.0" fill="none" stroke="#b3b7e0" stroke-width="0.6"/>
<path d="M190.0 458.4 L196.0 460.4 L204.1 466.5" fill="none" stroke="#b3b7e0" stroke-width="0.6"/>
<path d="M216.2 447.3 L223.2 449.3 L232.3 451.4 L230.3 458.4 L235.3 462.4 L239.3 469.5 L240.3 474.5 L233.3 480.6 L228.3 486.6 L225.2 492.6 L224.2 498.7 L231.3 500.7 L236.3 504.7 L241.4 509.8" fill="none" stroke="#b3b7e0" stroke-width="0.6"/>
<path d="M202.1 498.7 L209.1 499.7 L216.2 496.7 L225.2 492.6" fill="none" stroke="#b3b7e0" stroke-width="0.6"/>
<path d="M240.3 474.5 L246.4 472.5 L250.4 474.5 L254.4 470.5 L259.5 471.5 L264.5 468.5 L267.5 460.4 L272.6 452.4 L271.6 445.3 L266.5 443.3 L264.5 437.3 L265.5 432.2 L262.5 430.2 L265.5 423.8" fill="none" stroke="#b3b7e0" stroke-width="0.6"/>
<path d="M264.5 468.5 L266.5 474.5 L274.6 474.9" fill="none" stroke="#b3b7e0" stroke-width="0.6"/>
<path d="M190.0 521.3 L196.0 523.3 L201.1 527.3 L202.1 532.4 L196.0 536.4 L193.0 542.4 L190.0 546.5" fill="none" stroke="#b3b7e0" stroke-width="0.6"/>
<path d="M239.9 539.4 L237.3 541.4 L231.3 538.4 L228.3 540.4 L225.2 544.4 L220.2 548.5 L217.2 551.5" fill="none" stroke="#b3b7e0" stroke-width="0.6"/>
<path d="M263.5 538.4 L261.5 542.4 L260.5 548.5 L261.5 553.5 L254.4 555.5 L254.0 560.6 L256.5 566.6 L255.5 572.6 L258.5 578.7 L257.5 584.7" fill="none" stroke="#b3b7e0" stroke-width="0.6"/>
<path d="M261.5 553.5 L270.6 554.5 L278.6 555.5 L284.7 552.5 L288.7 555.5 L294.7 556.5 L293.7 560.6 L298.8 562.6 L303.8 562.6" fill="none" stroke="#b3b7e0" stroke-width="0.6"/>
<path d="M233.3 517.3 L238.3 516.2 L241.4 517.3 L241.4 523.3 L240.8 530.3 L239.3 536.4 L237.9 534.4 L235.3 530.3 L231.9 525.3 L231.3 521.3Z" fill="#fff"/>
<path d="M242.0 508.2 L244.4 506.2 L250.4 505.2 L256.5 503.8 L259.5 504.2 L262.5 505.8 L264.5 501.8 L269.5 500.1 L271.6 495.7 L274.6 497.1 L277.6 496.1 L279.6 492.5 L284.2 490.5 L286.7 496.1 L288.3 502.2 L288.7 508.2 L289.1 513.2 L291.7 513.8 L295.7 514.6 L297.7 519.3 L299.8 526.3 L300.4 530.8 L296.7 529.3 L291.7 528.3 L288.7 526.7 L284.7 526.3 L280.6 527.9 L275.6 528.3 L272.6 532.8 L267.5 534.0 L264.9 535.4 L263.5 538.4 L260.5 536.4 L257.5 535.4 L253.4 537.4 L250.4 536.0 L247.4 538.8 L242.8 539.4 L239.9 539.4 L239.3 535.4 L241.4 530.3 L241.4 522.3 L242.0 514.2Z" fill="#e9668a" stroke="#d65a7e" stroke-width="0.4"/>
<path d="M299.2 514.6 L301.8 515.0 L302.0 517.1 L299.8 517.3Z" fill="#e9668a"/>
</g>
<g shape-rendering="auto">
<line x1="81.26" y1="651.3" x2="81.26" y2="887.1" stroke="#c3d3ef" stroke-width="1" stroke-dasharray="3.6 2.8"/>
<line x1="115.30" y1="651.3" x2="115.30" y2="887.1" stroke="#a9c1ea" stroke-width="1" stroke-dasharray="3.6 2.8"/>
<line x1="149.34" y1="651.3" x2="149.34" y2="887.1" stroke="#c3d3ef" stroke-width="1" stroke-dasharray="3.6 2.8"/>
<line x1="183.38" y1="651.3" x2="183.38" y2="887.1" stroke="#c3d3ef" stroke-width="1" stroke-dasharray="3.6 2.8"/>
<line x1="217.42" y1="651.3" x2="217.42" y2="887.1" stroke="#a9c1ea" stroke-width="1" stroke-dasharray="3.6 2.8"/>
<line x1="251.46" y1="651.3" x2="251.46" y2="887.1" stroke="#a9c1ea" stroke-width="1" stroke-dasharray="3.6 2.8"/>
<line x1="285.50" y1="651.3" x2="285.50" y2="887.1" stroke="#a9c1ea" stroke-width="1" stroke-dasharray="3.6 2.8"/>
<line x1="319.54" y1="651.3" x2="319.54" y2="887.1" stroke="#a9c1ea" stroke-width="1" stroke-dasharray="3.6 2.8"/>
<clipPath id="cc"><rect x="60" y="650.7" width="260.14" height="237.4"/></clipPath>
<g clip-path="url(#cc)">
<rect x="192.50" y="651.70" width="8.60" height="13.08" fill="#c3d69b"/>
<rect x="201.10" y="651.70" width="31.90" height="13.08" fill="#d99694"/>
<rect x="184.25" y="664.78" width="16.85" height="13.08" fill="#c3d69b"/>
<rect x="201.10" y="664.78" width="43.90" height="13.08" fill="#d99694"/>
<rect x="173.75" y="677.86" width="27.35" height="13.08" fill="#c3d69b"/>
<rect x="201.10" y="677.86" width="57.40" height="13.08" fill="#d99694"/>
<rect x="163.00" y="690.94" width="38.10" height="13.08" fill="#c3d69b"/>
<rect x="201.10" y="690.94" width="68.40" height="13.08" fill="#d99694"/>
<rect x="156.25" y="704.02" width="44.85" height="13.08" fill="#c3d69b"/>
<rect x="201.10" y="704.02" width="68.90" height="13.08" fill="#d99694"/>
<rect x="150.50" y="717.10" width="50.60" height="13.08" fill="#c3d69b"/>
<rect x="201.10" y="717.10" width="65.90" height="13.08" fill="#d99694"/>
<rect x="142.50" y="730.18" width="58.60" height="13.08" fill="#c3d69b"/>
<rect x="201.10" y="730.18" width="73.90" height="13.08" fill="#d99694"/>
<rect x="133.00" y="743.26" width="68.10" height="13.08" fill="#c3d69b"/>
<rect x="201.10" y="743.26" width="78.40" height="13.08" fill="#d99694"/>
<rect x="130.00" y="756.34" width="71.10" height="13.08" fill="#c3d69b"/>
<rect x="201.10" y="756.34" width="79.40" height="13.08" fill="#d99694"/>
<rect x="123.75" y="769.42" width="77.35" height="13.08" fill="#c3d69b"/>
<rect x="201.10" y="769.42" width="80.90" height="13.08" fill="#d99694"/>
<rect x="114.00" y="782.50" width="87.10" height="13.08" fill="#c3d69b"/>
<rect x="201.10" y="782.50" width="88.90" height="13.08" fill="#d99694"/>
<rect x="105.00" y="795.58" width="96.10" height="13.08" fill="#c3d69b"/>
<rect x="201.10" y="795.58" width="98.90" height="13.08" fill="#d99694"/>
<rect x="98.75" y="808.66" width="102.35" height="13.08" fill="#c3d69b"/>
<rect x="201.10" y="808.66" width="111.65" height="13.08" fill="#d99694"/>
<rect x="105.00" y="821.74" width="96.10" height="13.08" fill="#c3d69b"/>
<rect x="201.10" y="821.74" width="95.15" height="13.08" fill="#d99694"/>
<rect x="120.75" y="834.82" width="80.35" height="13.08" fill="#c3d69b"/>
<rect x="201.10" y="834.82" width="72.65" height="13.08" fill="#d99694"/>
<rect x="141.00" y="847.90" width="60.10" height="13.08" fill="#c3d69b"/>
<rect x="201.10" y="847.90" width="57.40" height="13.08" fill="#d99694"/>
<rect x="134.25" y="860.98" width="66.85" height="13.08" fill="#c3d69b"/>
<rect x="201.10" y="860.98" width="64.40" height="13.08" fill="#d99694"/>
<rect x="116.75" y="874.06" width="84.35" height="13.08" fill="#c3d69b"/>
<rect x="201.10" y="874.06" width="78.90" height="13.08" fill="#d99694"/>
<rect x="191.50" y="651.70" width="9.60" height="13.08" fill="none" stroke="#77933c" stroke-width="0.9"/>
<rect x="201.10" y="651.70" width="28.90" height="13.08" fill="none" stroke="#953735" stroke-width="0.9"/>
<rect x="190.50" y="664.78" width="10.60" height="13.08" fill="none" stroke="#77933c" stroke-width="0.9"/>
<rect x="201.10" y="664.78" width="27.15" height="13.08" fill="none" stroke="#953735" stroke-width="0.9"/>
<rect x="179.50" y="677.86" width="21.60" height="13.08" fill="none" stroke="#77933c" stroke-width="0.9"/>
<rect x="201.10" y="677.86" width="51.40" height="13.08" fill="none" stroke="#953735" stroke-width="0.9"/>
<rect x="163.00" y="690.94" width="38.10" height="13.08" fill="none" stroke="#77933c" stroke-width="0.9"/>
<rect x="201.10" y="690.94" width="69.65" height="13.08" fill="none" stroke="#953735" stroke-width="0.9"/>
<rect x="151.50" y="704.02" width="49.60" height="13.08" fill="none" stroke="#77933c" stroke-width="0.9"/>
<rect x="201.10" y="704.02" width="73.40" height="13.08" fill="none" stroke="#953735" stroke-width="0.9"/>
<rect x="143.50" y="717.10" width="57.60" height="13.08" fill="none" stroke="#77933c" stroke-width="0.9"/>
<rect x="201.10" y="717.10" width="78.40" height="13.08" fill="none" stroke="#953735" stroke-width="0.9"/>
<rect x="140.25" y="730.18" width="60.85" height="13.08" fill="none" stroke="#77933c" stroke-width="0.9"/>
<rect x="201.10" y="730.18" width="78.15" height="13.08" fill="none" stroke="#953735" stroke-width="0.9"/>
<rect x="138.50" y="743.26" width="62.60" height="13.08" fill="none" stroke="#77933c" stroke-width="0.9"/>
<rect x="201.10" y="743.26" width="73.40" height="13.08" fill="none" stroke="#953735" stroke-width="0.9"/>
<rect x="129.25" y="756.34" width="71.85" height="13.08" fill="none" stroke="#77933c" stroke-width="0.9"/>
<rect x="201.10" y="756.34" width="78.90" height="13.08" fill="none" stroke="#953735" stroke-width="0.9"/>
<rect x="123.50" y="769.42" width="77.60" height="13.08" fill="none" stroke="#77933c" stroke-width="0.9"/>
<rect x="201.10" y="769.42" width="85.15" height="13.08" fill="none" stroke="#953735" stroke-width="0.9"/>
<rect x="120.00" y="782.50" width="81.10" height="13.08" fill="none" stroke="#77933c" stroke-width="0.9"/>
<rect x="201.10" y="782.50" width="85.15" height="13.08" fill="none" stroke="#953735" stroke-width="0.9"/>
<rect x="116.25" y="795.58" width="84.85" height="13.08" fill="none" stroke="#77933c" stroke-width="0.9"/>
<rect x="201.10" y="795.58" width="87.65" height="13.08" fill="none" stroke="#953735" stroke-width="0.9"/>
<rect x="106.50" y="808.66" width="94.60" height="13.08" fill="none" stroke="#77933c" stroke-width="0.9"/>
<rect x="201.10" y="808.66" width="98.40" height="13.08" fill="none" stroke="#953735" stroke-width="0.9"/>
<rect x="94.50" y="821.74" width="106.60" height="13.08" fill="none" stroke="#77933c" stroke-width="0.9"/>
<rect x="201.10" y="821.74" width="120.90" height="13.08" fill="none" stroke="#953735" stroke-width="0.9"/>
<rect x="98.75" y="834.82" width="102.35" height="13.08" fill="none" stroke="#77933c" stroke-width="0.9"/>
<rect x="201.10" y="834.82" width="113.15" height="13.08" fill="none" stroke="#953735" stroke-width="0.9"/>
<rect x="104.50" y="847.90" width="96.60" height="13.08" fill="none" stroke="#77933c" stroke-width="0.9"/>
<rect x="201.10" y="847.90" width="90.65" height="13.08" fill="none" stroke="#953735" stroke-width="0.9"/>
<rect x="118.25" y="860.98" width="82.85" height="13.08" fill="none" stroke="#77933c" stroke-width="0.9"/>
<rect x="201.10" y="860.98" width="74.15" height="13.08" fill="none" stroke="#953735" stroke-width="0.9"/>
<rect x="136.50" y="874.06" width="64.60" height="13.08" fill="none" stroke="#77933c" stroke-width="0.9"/>
<rect x="201.10" y="874.06" width="61.65" height="13.08" fill="none" stroke="#953735" stroke-width="0.9"/>
</g>
<line x1="201.10" y1="651.7" x2="201.10" y2="887.1" stroke="#8f8f86" stroke-width="0.9"/>
<line x1="81.26" y1="887.1" x2="319.54" y2="887.1" stroke="#8c8c8c" stroke-width="0.8"/>
<line x1="81.26" y1="887.1" x2="81.26" y2="890.5" stroke="#8c8c8c" stroke-width="0.8"/>
<line x1="115.30" y1="887.1" x2="115.30" y2="890.5" stroke="#8c8c8c" stroke-width="0.8"/>
<line x1="149.34" y1="887.1" x2="149.34" y2="890.5" stroke="#8c8c8c" stroke-width="0.8"/>
<line x1="183.38" y1="887.1" x2="183.38" y2="890.5" stroke="#8c8c8c" stroke-width="0.8"/>
<line x1="217.42" y1="887.1" x2="217.42" y2="890.5" stroke="#8c8c8c" stroke-width="0.8"/>
<line x1="251.46" y1="887.1" x2="251.46" y2="890.5" stroke="#8c8c8c" stroke-width="0.8"/>
<line x1="285.50" y1="887.1" x2="285.50" y2="890.5" stroke="#8c8c8c" stroke-width="0.8"/>
<line x1="319.54" y1="887.1" x2="319.54" y2="890.5" stroke="#8c8c8c" stroke-width="0.8"/>
<rect x="56.6" y="929.8" width="5.2" height="5.6" fill="#fff" stroke="#77933c" stroke-width="0.9"/>
<rect x="127.5" y="930.8" width="3.8" height="4.2" fill="#c3d69b"/>
<rect x="196.2" y="929.8" width="5.2" height="5.6" fill="#fff" stroke="#953735" stroke-width="0.9"/>
<rect x="265" y="930.8" width="3.8" height="4.2" fill="#d99694"/>
</g>
<rect x="377" y="377" width="308.5" height="30.5" fill="#93b070"/>
<rect x="377" y="687.5" width="308.5" height="30" fill="#c45a55"/>
<rect x="377" y="437.95" width="308.5" height="1.1" fill="#aec790"/>
<rect x="377" y="468.85" width="308.5" height="1.1" fill="#aec790"/>
<rect x="377" y="503.35" width="308.5" height="1.1" fill="#aec790"/>
<rect x="377" y="533.95" width="308.5" height="1.1" fill="#aec790"/>
<rect x="377" y="563.95" width="308.5" height="1.1" fill="#aec790"/>
<rect x="377" y="593.95" width="308.5" height="1.1" fill="#aec790"/>
<rect x="377" y="624.85" width="308.5" height="1.1" fill="#aec790"/>
<rect x="377" y="655.85" width="308.5" height="1.1" fill="#aec790"/>
<rect x="377" y="747.85" width="308.5" height="1.1" fill="#c95c58"/>
<rect x="377" y="778.75" width="308.5" height="1.1" fill="#c95c58"/>
<path d="M386.80 418.35h7.8l2.8 4.85l-2.8 4.85h-7.8l2.5 -4.85Z" fill="#b7ce9f" stroke="#76915f" stroke-width="1.0" stroke-linejoin="round"/>
<path d="M386.80 448.95h7.8l2.8 4.85l-2.8 4.85h-7.8l2.5 -4.85Z" fill="#b7ce9f" stroke="#76915f" stroke-width="1.0" stroke-linejoin="round"/>
<path d="M386.80 479.55h7.8l2.8 4.85l-2.8 4.85h-7.8l2.5 -4.85Z" fill="#b7ce9f" stroke="#76915f" stroke-width="1.0" stroke-linejoin="round"/>
<path d="M386.80 514.45h7.8l2.8 4.85l-2.8 4.85h-7.8l2.5 -4.85Z" fill="#b7ce9f" stroke="#76915f" stroke-width="1.0" stroke-linejoin="round"/>
<path d="M386.80 545.15h7.8l2.8 4.85l-2.8 4.85h-7.8l2.5 -4.85Z" fill="#b7ce9f" stroke="#76915f" stroke-width="1.0" stroke-linejoin="round"/>
<path d="M386.80 575.85h7.8l2.8 4.85l-2.8 4.85h-7.8l2.5 -4.85Z" fill="#b7ce9f" stroke="#76915f" stroke-width="1.0" stroke-linejoin="round"/>
<path d="M386.80 603.55h7.8l2.8 4.85l-2.8 4.85h-7.8l2.5 -4.85Z" fill="#b7ce9f" stroke="#76915f" stroke-width="1.0" stroke-linejoin="round"/>
<path d="M386.80 634.05h7.8l2.8 4.85l-2.8 4.85h-7.8l2.5 -4.85Z" fill="#b7ce9f" stroke="#76915f" stroke-width="1.0" stroke-linejoin="round"/>
<path d="M386.70 726.75h7.8l2.8 4.85l-2.8 4.85h-7.8l2.5 -4.85Z" fill="#f6f0f0" stroke="#f6f0f0" stroke-width="2.4" stroke-linejoin="round" stroke-opacity="0.55"/>
<path d="M386.70 726.75h7.8l2.8 4.85l-2.8 4.85h-7.8l2.5 -4.85Z" fill="#c55854" stroke="#a5423f" stroke-width="1.0" stroke-linejoin="round"/>
<path d="M386.70 757.45h7.8l2.8 4.85l-2.8 4.85h-7.8l2.5 -4.85Z" fill="#f6f0f0" stroke="#f6f0f0" stroke-width="2.4" stroke-linejoin="round" stroke-opacity="0.55"/>
<path d="M386.70 757.45h7.8l2.8 4.85l-2.8 4.85h-7.8l2.5 -4.85Z" fill="#c55854" stroke="#a5423f" stroke-width="1.0" stroke-linejoin="round"/>
<path d="M386.70 788.25h7.8l2.8 4.85l-2.8 4.85h-7.8l2.5 -4.85Z" fill="#f6f0f0" stroke="#f6f0f0" stroke-width="2.4" stroke-linejoin="round" stroke-opacity="0.55"/>
<path d="M386.70 788.25h7.8l2.8 4.85l-2.8 4.85h-7.8l2.5 -4.85Z" fill="#c55854" stroke="#a5423f" stroke-width="1.0" stroke-linejoin="round"/>
<path d="M549.3 963.2 L560.9 970.4 L549.3 973.2Z" fill="#f8800a" stroke="#f8800a" stroke-width="0.7" stroke-linejoin="round"/>
<path d="M556.9 962.1 L563.5 962.1 L563.7 966.8 L562.4 967.3Z" fill="#f8800a" stroke="#f8800a" stroke-width="0.7" stroke-linejoin="round"/>
<path d="M567.3 962.1 L571.3 962.1 L571.3 964.2 L567.5 967.3 L566.8 966.9Z" fill="#f8800a" stroke="#f8800a" stroke-width="0.7" stroke-linejoin="round"/>
<path d="M571.6 968.4 L571.6 971.8 L570.3 970.2Z" fill="#f8800a" stroke="#f8800a" stroke-width="0.7" stroke-linejoin="round"/>
<path d="M569.6 975.5 L571.0 975.7 L571.6 978.2 L571.4 982.6Z" fill="#f8800a" stroke="#f8800a" stroke-width="0.7" stroke-linejoin="round"/>
<path d="M564.8 977.3 L569.0 985.1 L561.2 985.1Z" fill="#f8800a" stroke="#f8800a" stroke-width="0.7" stroke-linejoin="round"/>
<path d="M549.3 977.0 L561.5 974.4 L555.7 985.1 L549.8 985.1Z" fill="#f8800a" stroke="#f8800a" stroke-width="0.7" stroke-linejoin="round"/>
</svg>
<div class="t" style="left:155.55px;top:59.00px;font-size:15.00px;transform:scale(1.0303,1.000);">Maakonna tervise ja heaolu näitajate ülevaade</div>
<div class="t" style="left:154.25px;top:100.00px;font-size:33.20px;transform:scale(0.9347,1.000);-webkit-text-stroke:0.3px #000">TARTUMAA</div>
<div class="t" style="left:37.85px;top:213.00px;font-size:11.20px;transform:scale(0.9915,1.000);-webkit-text-stroke:0.2px #000">Ülevaade teeb kokkuvõtte maakonna tervise ja heaolu</div>
<div class="t" style="left:37.85px;top:230.00px;font-size:11.20px;transform:scale(0.9879,1.000);-webkit-text-stroke:0.2px #000">valitud näitajatest. Eesmärgiks on esitada ühtsetel alustel</div>
<div class="t" style="left:37.85px;top:247.00px;font-size:11.20px;transform:scale(1.0005,1.000);-webkit-text-stroke:0.2px #000">arvutatud ja võrreldavaid tervisega seotud näitajaid ning</div>
<div class="t" style="left:37.85px;top:265.00px;font-size:11.20px;transform:scale(0.9844,1.000);-webkit-text-stroke:0.2px #000">aidata kaasa kohaliku tasandi tegevuste planeerimisele</div>
<div class="t" style="left:37.85px;top:283.00px;font-size:11.20px;transform:scale(0.9803,1.000);-webkit-text-stroke:0.2px #000">elanike tervise ja heaolu parandamiseks.</div>
<div class="t" style="left:37.85px;top:307.00px;font-size:11.20px;transform:scale(0.9929,1.000);-webkit-text-stroke:0.2px #000">Selle on koostanud Tervise Arengu Instituudi spetsialistid</div>
<div class="t" style="left:37.85px;top:325.00px;font-size:11.20px;transform:scale(0.9887,1.000);-webkit-text-stroke:0.2px #000">koostöös Sotsiaalministeeriumi ja Statistikaametiga.</div>
<div class="t" style="left:37.85px;top:350.00px;font-size:11.20px;transform:scale(1.0054,1.000);-webkit-text-stroke:0.2px #000">Ülevaates välja toodud andmete kohta leiab täiendavat infot</div>
<div class="t" style="left:38.15px;top:367.00px;font-size:11.20px;transform:scale(0.9574,1.000);-webkit-text-stroke:0.2px #000">aadressil:</div>
<div class="t" style="left:86.50px;top:367.00px;font-size:11.20px;transform:scale(1.0290,1.000);-webkit-text-stroke:0.2px #000"><u>www.terviseinfo.ee/maakonnatervis</u></div>
<div class="t" style="left:379.90px;top:212.00px;font-size:12.00px;transform:scale(0.9744,1.000);"><b>Elanike arv</b></div>
<div class="t" style="left:441.45px;top:212.00px;font-size:12.00px;transform:scale(1.0042,1.000);-webkit-text-stroke:0.2px #000">: 145 262 (01.01.2011)</div>
<div class="t" style="left:379.90px;top:228.00px;font-size:12.00px;transform:scale(0.9526,1.000);"><b>Osakaal kogu Eesti elanikkonnast</b></div>
<div class="t" style="left:563.95px;top:228.00px;font-size:12.00px;transform:scale(0.9917,1.000);-webkit-text-stroke:0.2px #000">: 11%</div>
<div class="t" style="left:379.90px;top:244.00px;font-size:12.00px;transform:scale(0.9898,1.000);"><b>Pindala</b></div>
<div class="t" style="left:421.95px;top:244.00px;font-size:12.00px;transform:scale(1.0024,1.000);-webkit-text-stroke:0.2px #000">: 2992,74 km²</div>
<div class="t" style="left:379.90px;top:260.00px;font-size:12.00px;transform:scale(0.9498,1.000);"><b>Asustustihedus</b></div>
<div class="t" style="left:465.20px;top:260.00px;font-size:12.00px;transform:scale(1.0198,1.000);-webkit-text-stroke:0.2px #000">: 48,5 elanikku km² kohta</div>
<div class="t" style="left:379.90px;top:277.00px;font-size:12.00px;transform:scale(0.9784,1.000);"><b>Maakonna keskus</b></div>
<div class="t" style="left:480.20px;top:277.00px;font-size:12.00px;transform:scale(1.0233,1.000);-webkit-text-stroke:0.2px #000">: Tartu linn (95 426 elanikku)</div>
<div class="t" style="left:379.90px;top:293.00px;font-size:12.00px;transform:scale(0.9462,1.000);"><b>Omavalitsusüksusi</b></div>
<div class="t" style="left:483.20px;top:293.00px;font-size:12.00px;transform:scale(0.9936,1.000);-webkit-text-stroke:0.2px #000">: 22, sh 3 linna ja 19 valda</div>
<div class="t" style="left:379.90px;top:309.00px;font-size:12.00px;transform:scale(0.9809,1.000);"><b>Olulisimad ettevõtlusharud</b></div>
<div class="t" style="left:531.45px;top:309.00px;font-size:12.00px;transform:scale(1.0460,1.000);-webkit-text-stroke:0.2px #000">: elektroonika- ja metalli-</div>
<div class="t" style="left:379.80px;top:326.00px;font-size:12.00px;transform:scale(1.0407,1.000);-webkit-text-stroke:0.2px #000">tööstus, klaaspakettide ja kilepakendite tootmine,</div>
<div class="t" style="left:379.80px;top:342.00px;font-size:12.00px;transform:scale(1.0390,1.000);-webkit-text-stroke:0.2px #000">mööbli-, toiduainete-, rõiva- ja jalatsitööstus, ehitus.</div>
<div class="t" style="left:468.00px;top:387.00px;font-size:12.30px;transform:scale(0.8956,1.000);color:#fff"><b>POSITIIVSED ARENGUD</b></div>
<div class="t" style="left:493.25px;top:697.00px;font-size:12.30px;transform:scale(0.8446,1.000);color:#fff"><b>VÄLJAKUTSED</b></div>
<div class="t" style="left:410.70px;top:413.00px;font-size:11.00px;transform:scale(0.9933,1.000);-webkit-text-stroke:0.2px #000">Eesti keskmisest kõrgem laste ja noorte osakaal</div>
<div class="t" style="left:410.70px;top:423.00px;font-size:11.00px;transform:scale(1.0073,1.000);-webkit-text-stroke:0.2px #000">maakonna rahvastikust</div>
<div class="t" style="left:410.70px;top:449.00px;font-size:11.00px;transform:scale(0.9814,1.000);-webkit-text-stroke:0.2px #000">Eesti keskmisest madalam suhtelise vaesuse määr</div>
<div class="t" style="left:410.70px;top:482.00px;font-size:11.00px;transform:scale(1.0014,1.000);-webkit-text-stroke:0.2px #000">Eesti kõige kõrgem oodatav eluiga sünnihetkel</div>
<div class="t" style="left:410.70px;top:509.00px;font-size:11.00px;transform:scale(0.9930,1.000);-webkit-text-stroke:0.2px #000">Eesti madalaim varajase suremuse (enne 65. eluaastat)</div>
<div class="t" style="left:410.70px;top:520.00px;font-size:11.00px;transform:scale(1.0155,1.000);-webkit-text-stroke:0.2px #000">määr</div>
<div class="t" style="left:410.70px;top:545.00px;font-size:11.00px;transform:scale(0.9908,1.000);-webkit-text-stroke:0.2px #000">Eesti keskmisest madalam suremuskaotus</div>
<div class="t" style="left:410.70px;top:575.00px;font-size:11.00px;transform:scale(1.0037,1.000);-webkit-text-stroke:0.2px #000">Eesti keskmisest rohkem perearste elaniku kohta</div>
<div class="t" style="left:410.70px;top:600.00px;font-size:11.00px;transform:scale(0.9920,1.000);-webkit-text-stroke:0.2px #000">Eesti keskmisest madalam igapäevasuitsetajate</div>
<div class="t" style="left:410.70px;top:610.00px;font-size:11.00px;transform:scale(0.9678,1.000);-webkit-text-stroke:0.2px #000">osakaal</div>
<div class="t" style="left:410.70px;top:630.00px;font-size:11.00px;transform:scale(0.9904,1.000);-webkit-text-stroke:0.2px #000">Eesti keskmisest madalam raseduse ajal suitsetavate</div>
<div class="t" style="left:410.70px;top:641.00px;font-size:11.00px;transform:scale(0.9804,1.000);-webkit-text-stroke:0.2px #000">naiste osakaal</div>
<div class="t" style="left:410.70px;top:728.00px;font-size:11.00px;transform:scale(0.9931,1.000);-webkit-text-stroke:0.2px #000">Ülekaaluliste koolilaste osakaal on aastatega kasvanud</div>
<div class="t" style="left:410.70px;top:759.00px;font-size:11.00px;transform:scale(1.0017,1.000);-webkit-text-stroke:0.2px #000">Eesti keskmisest kõrgem teismeliste raseduste näitaja</div>
<div class="t" style="left:410.70px;top:785.00px;font-size:11.00px;transform:scale(1.0051,1.000);-webkit-text-stroke:0.2px #000">Eesti keskmisest madalam tööealiste ravikindlustatuse</div>
<div class="t" style="left:410.70px;top:795.00px;font-size:11.00px;transform:scale(0.9678,1.000);-webkit-text-stroke:0.2px #000">osakaal</div>
<div class="t" style="left:94.60px;top:631.00px;font-size:10.30px;transform:scale(0.9870,1.000);"><b>TARTUMAA RAHVASTIKU STRUKTUUR</b></div>
<div class="t r" style="right:648.70px;top:655.00px;font-size:10.00px;transform:scale(0.9300,1.000);"><b>85+</b></div>
<div class="t r" style="right:648.70px;top:668.00px;font-size:10.00px;transform:scale(0.9300,1.000);"><b>80-84</b></div>
<div class="t r" style="right:648.70px;top:681.00px;font-size:10.00px;transform:scale(0.9300,1.000);"><b>75-79</b></div>
<div class="t r" style="right:648.70px;top:694.00px;font-size:10.00px;transform:scale(0.9300,1.000);"><b>70-74</b></div>
<div class="t r" style="right:648.70px;top:707.00px;font-size:10.00px;transform:scale(0.9300,1.000);"><b>65-69</b></div>
<div class="t r" style="right:648.70px;top:720.00px;font-size:10.00px;transform:scale(0.9300,1.000);"><b>60-64</b></div>
<div class="t r" style="right:648.70px;top:733.00px;font-size:10.00px;transform:scale(0.9300,1.000);"><b>55-59</b></div>
<div class="t r" style="right:648.70px;top:746.00px;font-size:10.00px;transform:scale(0.9300,1.000);"><b>50-54</b></div>
<div class="t r" style="right:648.70px;top:760.00px;font-size:10.00px;transform:scale(0.9300,1.000);"><b>45-49</b></div>
<div class="t r" style="right:648.70px;top:773.00px;font-size:10.00px;transform:scale(0.9300,1.000);"><b>40-44</b></div>
<div class="t r" style="right:648.70px;top:786.00px;font-size:10.00px;transform:scale(0.9300,1.000);"><b>35-39</b></div>
<div class="t r" style="right:648.70px;top:799.00px;font-size:10.00px;transform:scale(0.9300,1.000);"><b>30-34</b></div>
<div class="t r" style="right:648.70px;top:812.00px;font-size:10.00px;transform:scale(0.9300,1.000);"><b>25-29</b></div>
<div class="t r" style="right:648.70px;top:825.00px;font-size:10.00px;transform:scale(0.9300,1.000);"><b>20-24</b></div>
<div class="t r" style="right:648.70px;top:838.00px;font-size:10.00px;transform:scale(0.9300,1.000);"><b>15-19</b></div>
<div class="t r" style="right:648.70px;top:851.00px;font-size:10.00px;transform:scale(0.9300,1.000);"><b>10-14</b></div>
<div class="t r" style="right:648.70px;top:865.00px;font-size:10.00px;transform:scale(0.9300,1.000);"><b>5-9</b></div>
<div class="t r" style="right:648.70px;top:878.00px;font-size:10.00px;transform:scale(0.9300,1.000);"><b>0-4</b></div>
<div class="t" style="left:71.96px;top:901.00px;font-size:10.00px;transform:scale(0.9798,1.000);"><b>7000</b></div>
<div class="t" style="left:106.00px;top:901.00px;font-size:10.00px;transform:scale(0.9798,1.000);"><b>5000</b></div>
<div class="t" style="left:140.04px;top:901.00px;font-size:10.00px;transform:scale(0.9798,1.000);"><b>3000</b></div>
<div class="t" style="left:174.08px;top:901.00px;font-size:10.00px;transform:scale(0.9798,1.000);"><b>1000</b></div>
<div class="t" style="left:208.12px;top:901.00px;font-size:10.00px;transform:scale(0.9798,1.000);"><b>1000</b></div>
<div class="t" style="left:242.16px;top:901.00px;font-size:10.00px;transform:scale(0.9798,1.000);"><b>3000</b></div>
<div class="t" style="left:276.20px;top:901.00px;font-size:10.00px;transform:scale(0.9798,1.000);"><b>5000</b></div>
<div class="t" style="left:310.24px;top:901.00px;font-size:10.00px;transform:scale(0.9798,1.000);"><b>7000</b></div>
<div class="t" style="left:64.80px;top:928.00px;font-size:8.80px;transform:scale(1.0478,1.000);"><b>Mehed (2000)</b></div>
<div class="t" style="left:134.30px;top:928.00px;font-size:8.80px;transform:scale(1.0389,1.000);"><b>Mehed (2010)</b></div>
<div class="t" style="left:203.30px;top:928.00px;font-size:8.80px;transform:scale(1.0250,1.000);"><b>Naised (2000)</b></div>
<div class="t" style="left:271.30px;top:928.00px;font-size:8.80px;transform:scale(1.0250,1.000);"><b>Naised (2010)</b></div>
<div class="t" style="left:578.20px;top:969.00px;font-size:11.00px;transform:scale(0.8580,1.000);color:#1a4352"><b>Tervise Arengu Instituut</b></div>
<div class="t" style="left:578.70px;top:983.00px;font-size:5.70px;transform:scale(0.9546,1.000);color:#3a6878"><b>National Institute for Health Development</b></div>
</body></html>
